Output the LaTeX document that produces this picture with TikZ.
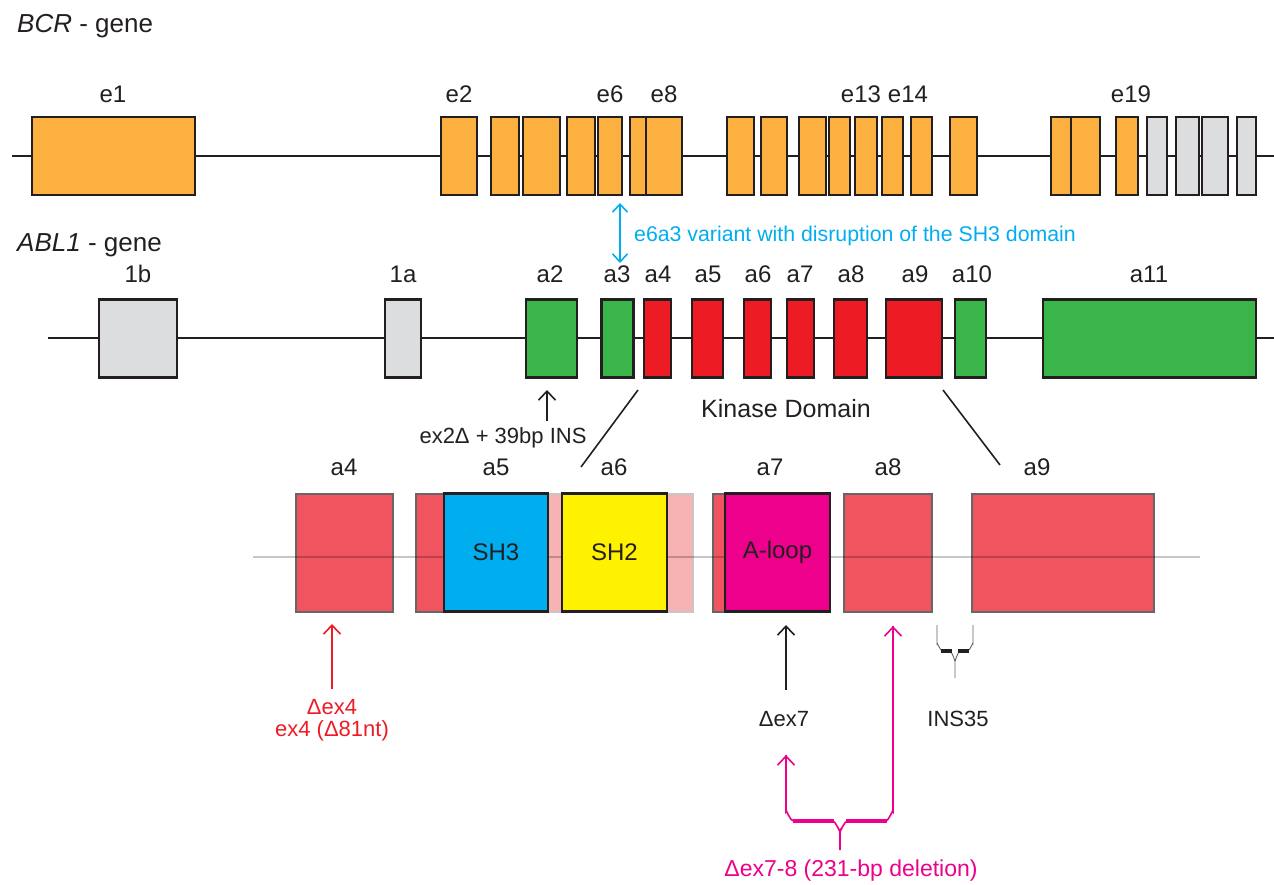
\documentclass[tikz,border=0pt]{standalone}
\usepackage{fontspec}
\setmainfont{Liberation Sans}
\usetikzlibrary{arrows.meta}
\definecolor{bcrorange}{RGB}{251,176,64}
\definecolor{exgray}{RGB}{220,221,222}
\definecolor{exgreen}{RGB}{57,181,74}
\definecolor{exred}{RGB}{237,28,36}
\definecolor{sh3c}{RGB}{0,174,239}
\definecolor{sh2c}{RGB}{255,242,0}
\definecolor{aloopc}{RGB}{236,0,140}
\definecolor{outl}{RGB}{35,31,32}
\definecolor{lowred}{RGB}{240,85,95}
\definecolor{palepink}{RGB}{247,178,180}
\definecolor{bluetxt}{RGB}{0,174,239}
\definecolor{redtxt}{RGB}{237,28,36}
\definecolor{pinktxt}{RGB}{236,0,140}
\newcommand{\exbox}[5]{\node[exonbox,fill=#2,minimum width=#4] (#1) at (#3,#5) {};}
\begin{document}
\begin{tikzpicture}[x=1pt,y=-1pt,
  exonbox/.style={draw=outl,line width=2.2pt,inner sep=0pt,minimum height=78pt},
  lowbox/.style={draw=black!60,line width=2pt,inner sep=0pt,minimum height=118pt},
  dombox/.style={draw=outl,line width=2.2pt,inner sep=0pt,minimum height=118pt,font=\fontsize{24}{28}\selectfont,text=outl},
  gline/.style={draw=outl,line width=1.8pt},
  lbl/.style={inner sep=0pt,font=\fontsize{24}{28}\selectfont,text=outl},
  ttl/.style={inner sep=0pt,font=\fontsize{26}{30}\selectfont,text=outl,anchor=west},
  small/.style={inner sep=0pt,font=\fontsize{22}{26}\selectfont},
  barb/.style={-{Straight Barb[length=9pt,width=17pt]},line width=1.6pt},
  dbarb/.style={{Straight Barb[length=8pt,width=15pt]}-{Straight Barb[length=8pt,width=15pt]},line width=1.6pt}
]
\useasboundingbox (0,0) rectangle (1274,885);

% ---------------- BCR gene ----------------
\node[ttl] (bcrtitle) at (17,26) {\textit{BCR} - gene};
\coordinate (bcrL) at (12,156);
\coordinate (bcrR) at (1274,156);
\draw[gline] (bcrL) -- (bcrR);
\exbox{e1}{bcrorange}{113.5}{163}{156}
\exbox{b2}{bcrorange}{459}{36}{156}
\exbox{b3}{bcrorange}{505}{28}{156}
\exbox{b4}{bcrorange}{541.5}{37}{156}
\exbox{b5}{bcrorange}{581}{28}{156}
\exbox{b6}{bcrorange}{610}{24}{156}
\exbox{b7}{bcrorange}{638}{16}{156}
\exbox{b8}{bcrorange}{664}{36}{156}
\exbox{b9}{bcrorange}{740.5}{27}{156}
\exbox{b10}{bcrorange}{774}{26}{156}
\exbox{b11}{bcrorange}{812.5}{27}{156}
\exbox{b12}{bcrorange}{839.5}{21}{156}
\exbox{b13}{bcrorange}{866}{22}{156}
\exbox{b14}{bcrorange}{892.5}{21}{156}
\exbox{b15}{bcrorange}{921.5}{21}{156}
\exbox{b16}{bcrorange}{963.5}{27}{156}
\exbox{b17}{bcrorange}{1061}{20}{156}
\exbox{b18}{bcrorange}{1085.5}{29}{156}
\exbox{b19}{bcrorange}{1127}{22}{156}
\exbox{g1}{exgray}{1157}{20}{156}
\exbox{g2}{exgray}{1187.5}{23}{156}
\exbox{g3}{exgray}{1215}{26}{156}
\exbox{g4}{exgray}{1246.5}{19}{156}
\node[lbl] (le1) at (113,94) {e1};
\node[lbl] (le2) at (459,94) {e2};
\node[lbl] (le6) at (610,94) {e6};
\node[lbl] (le8) at (664,94) {e8};
\node[lbl] (le13) at (861,94) {e13};
\node[lbl] (le14) at (908,94) {e14};
\node[lbl] (le19) at (1131,94) {e19};

% blue double arrow
\coordinate (bluetop) at (620,203);
\coordinate (bluebot) at (620,263);
\draw[dbarb,draw=bluetxt] (bluetop) -- (bluebot);
\node[small,text=bluetxt,anchor=west,font=\fontsize{21.3}{25}\selectfont] (bluetext) at (634,236) {e6a3 variant with disruption of the SH3 domain};

% ---------------- ABL1 gene ----------------
\node[ttl] (abltitle) at (17,245) {\textit{ABL1} - gene};
\coordinate (ablL) at (48,338);
\coordinate (ablR) at (1274,338);
\draw[gline] (ablL) -- (ablR);
\exbox{x1b}{exgray}{138}{78}{338.5}
\exbox{x1a}{exgray}{403}{36}{338.5}
\exbox{xa2}{exgreen}{551.5}{51}{338.5}
\exbox{xa3}{exgreen}{617.5}{32}{338.5}
\exbox{xa4}{exred}{657.5}{27}{338.5}
\exbox{xa5}{exred}{707.5}{31}{338.5}
\exbox{xa6}{exred}{757.5}{27}{338.5}
\exbox{xa7}{exred}{800.5}{27}{338.5}
\exbox{xa8}{exred}{850.5}{33}{338.5}
\exbox{xa9}{exred}{914}{56}{338.5}
\exbox{xa10}{exgreen}{970.5}{31}{338.5}
\exbox{xa11}{exgreen}{1149.5}{213}{338.5}
\node[lbl] (l1b) at (138,274) {1b};
\node[lbl] (l1a) at (403,274) {1a};
\node[lbl] (la2) at (550,274) {a2};
\node[lbl] (la3) at (617,274) {a3};
\node[lbl] (la4) at (658,274) {a4};
\node[lbl] (la5) at (708,274) {a5};
\node[lbl] (la6) at (758,274) {a6};
\node[lbl] (la7) at (800,274) {a7};
\node[lbl] (la8) at (851,274) {a8};
\node[lbl] (la9) at (915,274) {a9};
\node[lbl] (la10) at (972,274) {a10};
\node[lbl] (la11) at (1149,274) {a11};

\coordinate (ex2tail) at (547,421);
\coordinate (ex2tip) at (547,390);
\draw[barb,draw=outl] (ex2tail) -- (ex2tip);
\node[small,text=outl] (ex2txt) at (503,438) {ex2Δ + 39bp INS};
\node[lbl,font=\fontsize{25}{29}\selectfont] (kinase) at (786,409) {Kinase Domain};

\coordinate (sl1a) at (638,390);
\coordinate (sl1b) at (581,467);
\coordinate (sl2a) at (943,390);
\coordinate (sl2b) at (1000,465);
\draw[outl,line width=1.6pt] (sl1a) -- (sl1b);
\draw[outl,line width=1.6pt] (sl2a) -- (sl2b);

% ---------------- lower exon detail ----------------
\node[lowbox,fill=lowred,minimum width=97] (la4box) at (344.5,552.5) {};
\node[lowbox,fill=lowred,minimum width=110] (la5box) at (471,552.5) {};
\node[lowbox,fill=palepink,draw=black!22,minimum width=162] (la6box) at (612,552.5) {};
\node[lowbox,fill=lowred,minimum width=87] (la7box) at (756.5,552.5) {};
\node[lowbox,fill=lowred,minimum width=88] (la8box) at (888,552.5) {};
\node[lowbox,fill=lowred,minimum width=182] (la9box) at (1063,552.5) {};
\coordinate (lowL) at (253,557);
\coordinate (lowR) at (1200,557);
\draw[black,opacity=0.22,line width=2pt] (lowL) -- (lowR);
\node[dombox,fill=sh3c,minimum width=104] (sh3) at (496,552.5) {SH3};
\node[dombox,fill=sh2c,minimum width=105] (sh2) at (614.5,552.5) {SH2};
\node[dombox,fill=aloopc,minimum width=105] (aloop) at (777.5,552.5) {A-loop};

\node[lbl] (lla4) at (344,467) {a4};
\node[lbl] (lla5) at (496,467) {a5};
\node[lbl] (lla6) at (614,467) {a6};
\node[lbl] (lla7) at (770,467) {a7};
\node[lbl] (lla8) at (888,467) {a8};
\node[lbl] (lla9) at (1037,467) {a9};

% red arrow ex4
\coordinate (r4tail) at (332,689);
\coordinate (r4tip) at (332,624);
\draw[barb,draw=redtxt] (r4tail) -- (r4tip);
\node[small,text=redtxt,align=center] (d4a) at (332,707) {Δex4};
\node[small,text=redtxt] (d4b) at (332,731) {ex4 (Δ81nt)};

% black arrow ex7
\coordinate (k7tail) at (786,690);
\coordinate (k7tip) at (786,625);
\draw[barb,draw=outl] (k7tail) -- (k7tip);
\node[small,text=outl] (d7) at (784,719) {Δex7};

% INS35 brace
\coordinate (insL) at (937,625);
\coordinate (insR) at (973,625);
\coordinate (insTip) at (955,678);
\draw[outl!70,line width=0.9pt] (insL) -- (937,644) to[out=90,in=180] (943,651) -- (949,651) to[out=0,in=-90] (955,660) -- (insTip);
\draw[outl!70,line width=0.9pt] (insR) -- (973,644) to[out=90,in=0] (967,651) -- (961,651) to[out=180,in=-90] (955,660);
\draw[outl,line width=3.4pt] (941,651) -- (952,651);
\draw[outl,line width=3.4pt] (958,651) -- (969,651);
\node[small,text=outl] (ins35) at (958,719) {INS35};

% pink brace ex7-8
\coordinate (pLtip) at (786,755);
\coordinate (pRtip) at (893,626);
\coordinate (pMid) at (840,850);
\draw[barb,draw=pinktxt] (786,790) -- (pLtip);
\draw[barb,draw=pinktxt] (893,700) -- (pRtip);
\draw[pinktxt,line width=1.6pt] (pLtip) -- (786,812) to[out=90,in=180] (794,821) -- (832,821) to[out=0,in=-90] (840,830) -- (pMid);
\draw[pinktxt,line width=1.6pt] (pRtip) -- (893,812) to[out=90,in=0] (885,821) -- (848,821) to[out=180,in=-90] (840,830);
\draw[pinktxt,line width=4.5pt] (793,821) -- (834,821);
\draw[pinktxt,line width=4.5pt] (846,821) -- (887,821);
\node[small,text=pinktxt,font=\fontsize{23}{27}\selectfont] (d78) at (851,871) {Δex7-8 (231-bp deletion)};
\end{tikzpicture}
\end{document}
